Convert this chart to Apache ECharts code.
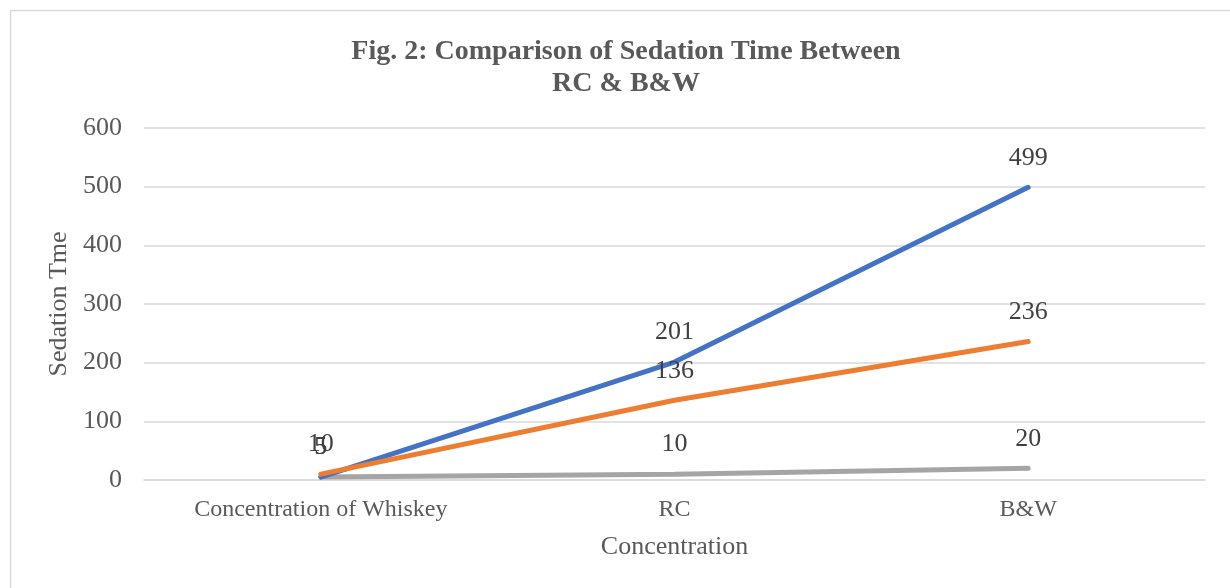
<!DOCTYPE html>
<html><head><meta charset="utf-8">
<script src="https://cdn.jsdelivr.net/npm/echarts@6/dist/echarts.min.js"></script>
<style>html,body{margin:0;padding:0;background:#fff}#c{width:1230px;height:588px}</style>
</head><body><div id="c"></div>
<script>
const categories = ["Concentration of Whiskey", "RC", "B&W"];
const seriesBlue = [5, 201, 499];
const seriesOrange = [10, 136, 236];
const seriesGray = [5, 10, 20];
const yTicks = [0, 100, 200, 300, 400, 500, 600];

const font = '"Liberation Serif", "Times New Roman", serif';
const chart = echarts.init(document.getElementById('c'));
function mk(name, data, color, z) {
  return {
    name, type: 'line', data, symbol: 'circle', symbolSize: 1, showSymbol: true, z,
    lineStyle: { color, width: 5, cap: 'round' },
    itemStyle: { color },
    label: { show: true, position: 'top', distance: 16, color: '#404040', fontFamily: font, fontSize: 26 }
  };
}
chart.setOption({
  backgroundColor: '#fff',
  animation: false,
  graphic: [{ type: 'rect', shape: { x: 10.5, y: 10.5, width: 1230, height: 590 }, style: { fill: 'none', stroke: '#d9d9d9', lineWidth: 1.5 } }],
  title: {
    text: 'Fig. 2: Comparison of Sedation Time Between\nRC & B&W',
    left: 621, textAlign: 'center', top: 31,
    textStyle: { fontFamily: font, fontWeight: 'bold', fontSize: 28, color: '#595959', lineHeight: 32 }
  },
  grid: { left: 144, right: 25, top: 128, bottom: 108 },
  xAxis: {
    type: 'category', data: categories, boundaryGap: true,
    axisLine: { lineStyle: { color: '#d9d9d9', width: 1.5 } },
    axisTick: { show: false },
    axisLabel: { color: '#595959', fontFamily: font, fontSize: 24, margin: 18 },
    name: 'Concentration', nameLocation: 'middle', nameGap: 54,
    nameTextStyle: { color: '#595959', fontFamily: font, fontSize: 26 }
  },
  yAxis: {
    type: 'value', min: yTicks[0], max: yTicks[yTicks.length - 1], interval: 100,
    axisLine: { show: false }, axisTick: { show: false },
    splitLine: { lineStyle: { color: '#d9d9d9', width: 1.5 } },
    axisLabel: { color: '#595959', fontFamily: font, fontSize: 26, margin: 22 },
    name: 'Sedation Tme', nameLocation: 'middle', nameGap: 72,
    nameTextStyle: { color: '#595959', fontFamily: font, fontSize: 26 }
  },
  series: [
    mk('Series1', seriesBlue, '#4472C4', 3),
    mk('Series2', seriesOrange, '#ED7D31', 4),
    mk('Series3', seriesGray, '#A5A5A5', 2)
  ]
});
</script></body></html>
